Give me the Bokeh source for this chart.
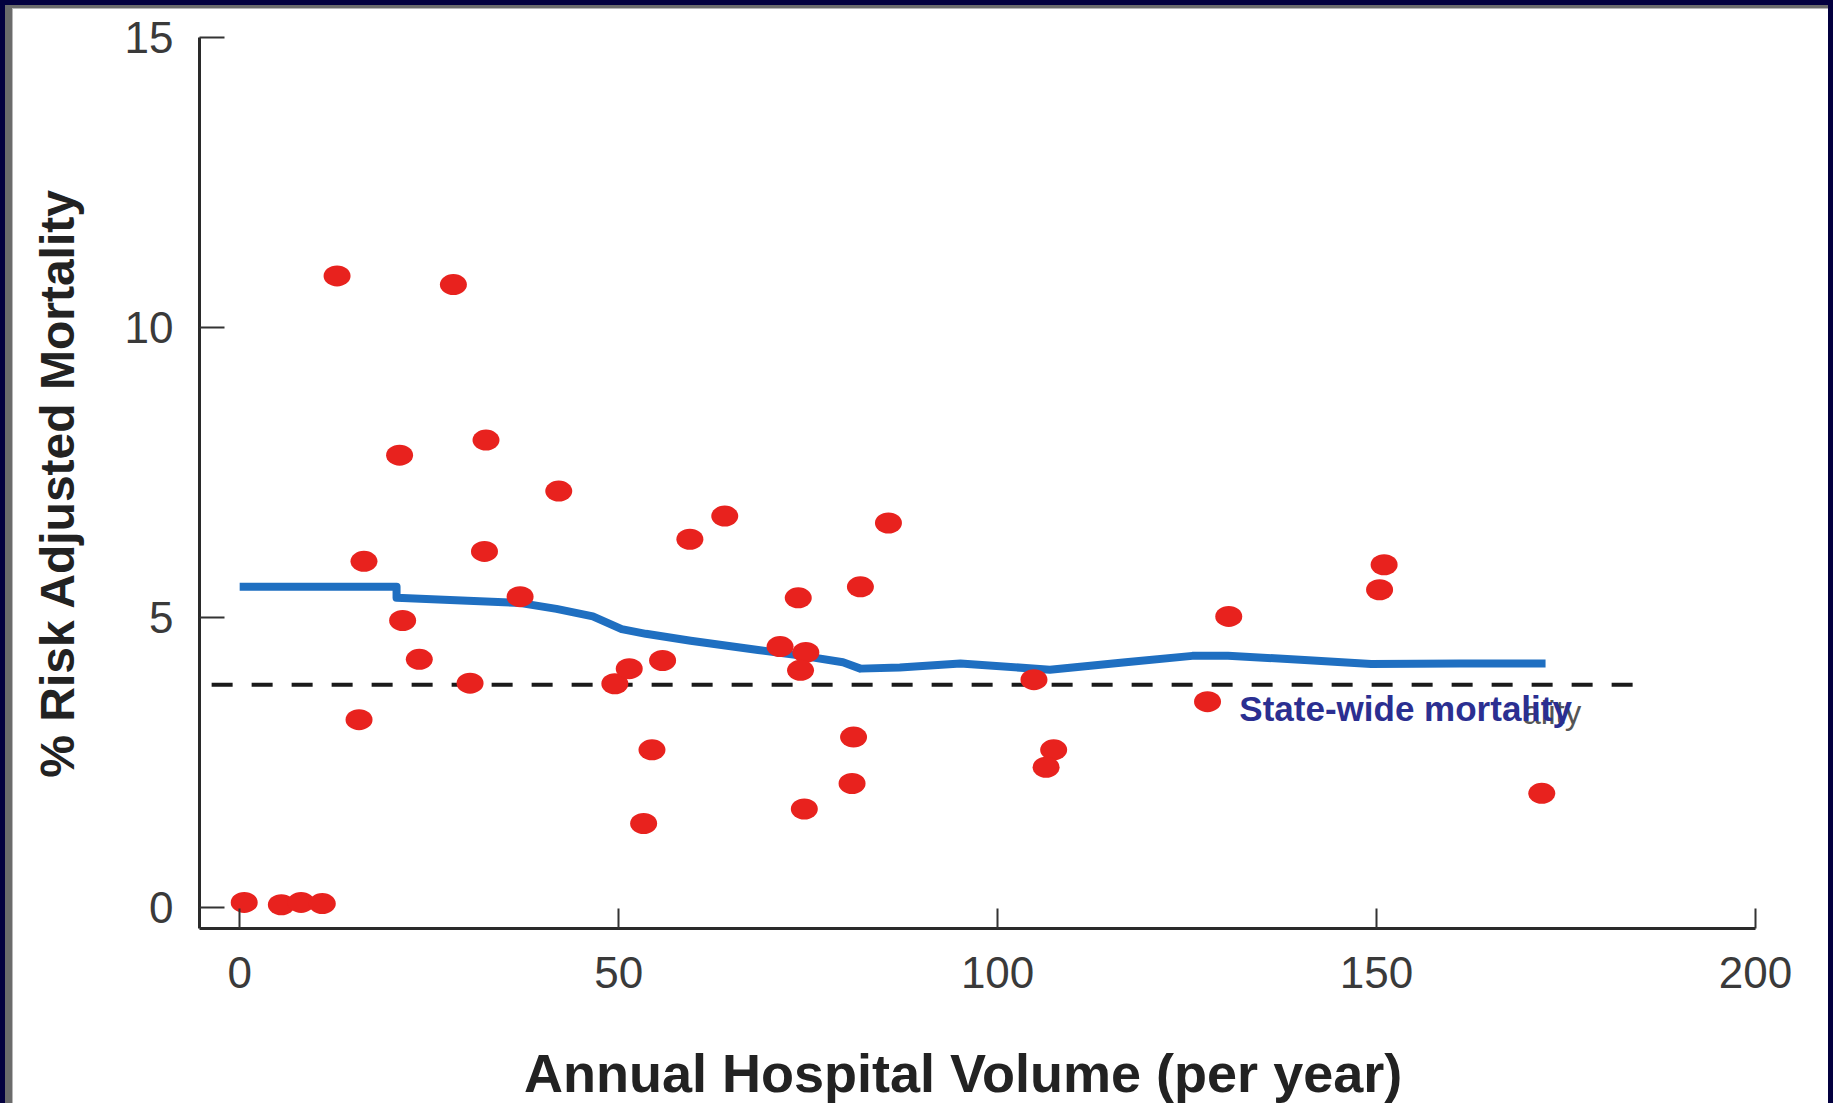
from bokeh.plotting import figure
from bokeh.layouts import column
from bokeh.models import Label, Range1d, FixedTicker, ColumnDataSource
from bokeh.embed import file_html
from bokeh.resources import INLINE

# ---- data ----
volume = [0.6, 5.5, 8.1, 10.9, 12.85, 28.2, 21.1, 32.5, 42.1, 16.4,
          32.3, 37.0, 21.5, 23.7, 30.4, 15.75, 59.4, 64.0, 85.6, 73.7,
          81.9, 71.3, 74.7, 74.0, 49.5, 51.4, 55.8, 54.4, 53.3, 74.5,
          81.0, 80.8, 104.8, 107.4, 106.4, 130.5, 127.7, 151.0, 150.4, 171.8]
mortality = [0.09, 0.05, 0.09, 0.07, 10.89, 10.74, 7.8, 8.06, 7.18, 5.97,
             6.14, 5.36, 4.95, 4.28, 3.87, 3.24, 6.35, 6.75, 6.63, 5.34,
             5.53, 4.50, 4.40, 4.09, 3.86, 4.12, 4.26, 2.72, 1.45, 1.70,
             2.94, 2.14, 3.93, 2.72, 2.42, 5.02, 3.55, 5.91, 5.48, 1.97]

trend_volume = [0.0, 20.7, 20.7, 30.1, 37.1, 41.8, 46.6, 50.4, 53.6, 59.5,
                68.4, 74.3, 79.6, 81.9, 87.1, 95.1, 106.9, 116.9, 125.7,
                130.4, 140.5, 149.3, 161.0, 172.3]
trend_mortality = [5.53, 5.53, 5.34, 5.29, 5.25, 5.15, 5.02, 4.80, 4.72, 4.60,
                   4.44, 4.34, 4.23, 4.12, 4.14, 4.21, 4.10, 4.23, 4.34,
                   4.34, 4.27, 4.20, 4.21, 4.21]

statewide_rate = 3.84
statewide_span = [-3.7, 184.4]

x_ticks = [0, 50, 100, 150, 200]
y_ticks = [0, 5, 10, 15]

x_title = "Annual Hospital Volume (per year)"
y_title = "% Risk Adjusted Mortality"
ref_label = "State-wide mortality"

NAVY = "#03003f"
GREY = "#6b6b6b"
LIGHT = "#b8b8b8"

# ---- main figure ----
p = figure(width=1833, height=1020, output_backend="svg", toolbar_location=None,
           x_range=Range1d(-5.3, 200), y_range=Range1d(-0.36, 15),
           min_border_left=199, min_border_right=78,
           min_border_top=37, min_border_bottom=92,
           background_fill_color="white", border_fill_color=None)
p.styles = {
    "background-color": "white",
    "box-shadow": (f"inset 5px 5px 0 0 {NAVY}, inset -5px 0 0 0 {NAVY}, "
                   f"inset 12px 8px 0 0 {GREY}, inset 13px 9px 0 0 {LIGHT}"),
}
p.outline_line_color = None
p.xgrid.visible = False
p.ygrid.visible = False

# state-wide reference line
p.line(x=statewide_span, y=[statewide_rate, statewide_rate],
       line_color="#1a1a1a", line_width=4, line_dash="21 19")

# trend line
p.line(x=trend_volume, y=trend_mortality, line_color="#1f6fc1", line_width=8,
       line_join="round")

# hospitals
src = ColumnDataSource(dict(x=volume, y=mortality))
p.ellipse(x="x", y="y", width=27, height=21, width_units="screen",
          height_units="screen", source=src, fill_color="#e8221e",
          line_color=None)

# labels on the reference line
p.add_layout(Label(x=177.0, y=3.36, text="ality", text_align="right",
                   text_baseline="alphabetic", text_font="Liberation Sans",
                   text_font_size="33px", text_color="#555555"))
p.add_layout(Label(x=131.9, y=3.43, text=ref_label, text_align="left",
                   text_baseline="alphabetic", text_font="Liberation Sans",
                   text_font_style="bold", text_font_size="35px",
                   text_color="#2b2f91"))

# axes
for ax, ticks, tick_len in ((p.xaxis, x_ticks, 20), (p.yaxis, y_ticks, 25)):
    ax.ticker = FixedTicker(ticks=ticks)
    ax.major_tick_in = tick_len
    ax.major_tick_out = 0
    ax.minor_tick_line_color = None
    ax.major_tick_line_width = 2
    ax.major_tick_line_color = "#333333"
    ax.axis_line_width = 3
    ax.axis_line_color = "#2a2a2a"
    ax.major_label_text_font = "Liberation Sans"
    ax.major_label_text_font_size = "44px"
    ax.major_label_text_color = "#3a3a3a"

p.xaxis.major_label_standoff = 28

p.yaxis.axis_label = y_title
p.yaxis.axis_label_text_font = "Liberation Sans"
p.yaxis.axis_label_text_font_style = "bold"
p.yaxis.axis_label_text_color = "#222222"
p.yaxis.axis_label_text_font_size = "48px"
p.yaxis.major_label_standoff = 26
p.yaxis.axis_label_standoff = 38

# ---- strip below holding the x-axis title ----
t = figure(width=1833, height=83, output_backend="svg", toolbar_location=None,
           x_range=Range1d(0, 1833), y_range=Range1d(0, 83),
           x_axis_type=None, y_axis_type=None, min_border=0,
           min_border_left=0, min_border_right=0,
           min_border_top=0, min_border_bottom=0,
           background_fill_color="white", border_fill_color=None)
t.styles = {
    "background-color": "white",
    "box-shadow": (f"inset 5px 0 0 0 {NAVY}, inset -5px 0 0 0 {NAVY}, "
                   f"inset 12px 0 0 0 {GREY}, inset 13px 0 0 0 {LIGHT}"),
}
t.outline_line_color = None
t.grid.visible = False
t.background_fill_alpha = 0
t.add_layout(Label(x=899.6, y=31, text=x_title, text_align="center",
                   text_baseline="alphabetic", text_font="Liberation Sans",
                   text_font_style="bold", text_font_size="54px",
                   text_color="#222222"))

layout = column(p, t, spacing=0)
open("out.html", "w").write(file_html(layout, INLINE))
